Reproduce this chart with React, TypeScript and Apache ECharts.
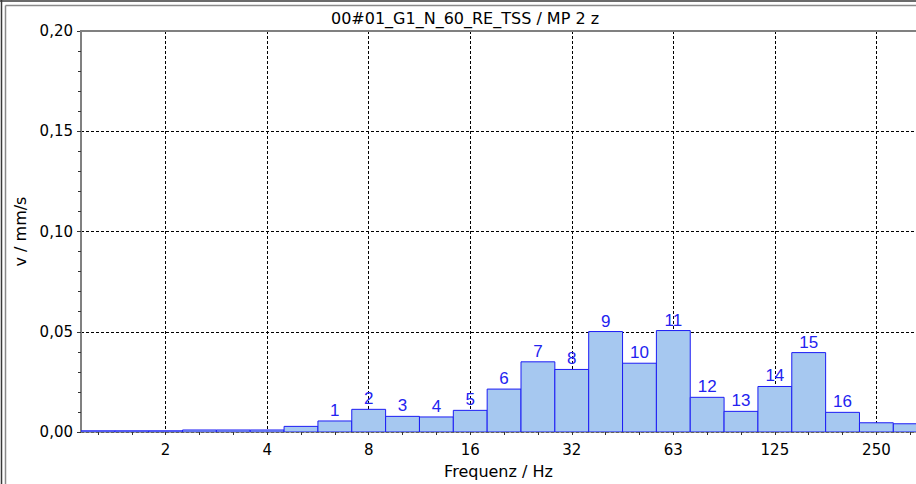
import React, { useEffect, useRef } from 'react';
import * as echarts from 'echarts';

// ---- data ----
const chartTitle = '00#01_G1_N_60_RE_TSS / MP 2 z';
const yAxisName = 'v / mm/s';
const xAxisName = 'Frequenz / Hz';

// third-octave band index (band centre = 2^(n/3) Hz)
const bandIndex = [1, 2, 3, 4, 5, 6, 7, 8, 9, 10, 11, 12, 13, 14, 15, 16, 17, 18, 19, 20, 21, 22, 23, 24, 25];
const bandValues = [
  0.0006, 0.0006, 0.0006, 0.001, 0.001, 0.001, 0.0028, 0.0055, 0.0113, 0.0078,
  0.0075, 0.0108, 0.0214, 0.035, 0.0312, 0.0501, 0.0343, 0.0506, 0.0173, 0.0103,
  0.0227, 0.0396, 0.0098, 0.0046, 0.0041,
];
const bandLabels = [
  '', '', '', '', '', '', '', '1', '2', '3', '4', '5', '6', '7', '8', '9', '10',
  '11', '12', '13', '14', '15', '16', '', '',
];
const xTickBands = [3, 6, 9, 12, 15, 18, 21, 24];
const xTickLabels = ['2', '4', '8', '16', '32', '63', '125', '250'];
const yMin = 0;
const yMax = 0.2;
const yStep = 0.05;

const AXIS_FONT = 'DejaVu Sans';
const BAR_FONT = 'Liberation Sans';

export default function App() {
  const ref = useRef<HTMLDivElement>(null);

  useEffect(() => {
    if (!ref.current) return;
    const chart = echarts.init(ref.current, null, { renderer: 'svg' });

    const dashed = { color: '#000', width: 1, type: [3, 2] as number[] };

    const option: any = {
      animation: false,
      backgroundColor: '#ffffff',
      grid: { left: 81, top: 31, right: 0, bottom: 51, containLabel: false },
      xAxis: [
        {
          type: 'value',
          min: 0.5,
          max: 25.17,
          position: 'bottom',
          axisLine: { show: true, onZero: false, lineStyle: { color: '#808080', width: 1.5 } },
          axisTick: { show: true, customValues: bandIndex, length: 3, lineStyle: { color: '#333' } },
          axisLabel: {
            customValues: xTickBands,
            formatter: (v: number) => {
              const i = xTickBands.indexOf(Math.round(v));
              return i >= 0 ? xTickLabels[i] : '';
            },
            margin: 10,
            color: '#000',
            fontFamily: AXIS_FONT,
            fontSize: 15,
          },
          splitLine: { show: false },
          name: xAxisName,
          nameLocation: 'middle',
          nameGap: 31,
          nameTextStyle: { color: '#000', fontFamily: AXIS_FONT, fontSize: 16 },
        },
        {
          type: 'value',
          min: 0.5,
          max: 25.17,
          position: 'top',
          axisLine: { show: false },
          axisTick: { show: false, customValues: xTickBands },
          axisLabel: { show: false, customValues: xTickBands },
          splitLine: { show: true, lineStyle: dashed },
        },
      ],
      yAxis: {
        type: 'value',
        min: yMin,
        max: yMax,
        interval: yStep,
        axisLine: { show: true, lineStyle: { color: '#808080', width: 2 } },
        axisTick: { show: true, length: 4, lineStyle: { color: '#333' } },
        minorTick: { show: true, splitNumber: 5, length: 3, lineStyle: { color: '#333' } },
        axisLabel: {
          formatter: (v: number) => v.toFixed(2).replace('.', ','),
          margin: 8,
          color: '#000',
          fontFamily: AXIS_FONT,
          fontSize: 15,
        },
        splitLine: { show: true, lineStyle: dashed },
        minorSplitLine: { show: false },
        name: yAxisName,
        nameLocation: 'middle',
        nameGap: 49,
        nameRotate: 90,
        nameTextStyle: { color: '#000', fontFamily: AXIS_FONT, fontSize: 16 },
      },
      series: [
        {
          type: 'custom',
          xAxisIndex: 0,
          yAxisIndex: 0,
          clip: true,
          z: 3,
          data: bandIndex.map((n, i) => [n, bandValues[i]]),
          renderItem: (params: any, api: any) => {
            const n = api.value(0);
            const v = api.value(1);
            const p0 = api.coord([n - 0.5, v]);
            const p1 = api.coord([n + 0.5, 0]);
            const children: any[] = [
              {
                type: 'rect',
                shape: { x: p0[0], y: p0[1], width: p1[0] - p0[0], height: p1[1] - p0[1] },
                style: { fill: '#a6c8f0', stroke: '#1c1cf5', lineWidth: 1 },
              },
            ];
            const lbl = bandLabels[params.dataIndex];
            if (lbl) {
              children.push({
                type: 'text',
                x: (p0[0] + p1[0]) / 2,
                y: p0[1] - 2,
                style: {
                  text: lbl,
                  align: 'center',
                  verticalAlign: 'bottom',
                  textAlign: 'center',
                  textVerticalAlign: 'bottom',
                  fill: '#2323f0',
                  fontSize: 17,
                  fontFamily: BAR_FONT,
                },
              });
            }
            return { type: 'group', children };
          },
        },
      ],
      graphic: [
        { type: 'line', z: 100, shape: { x1: 0, y1: 1, x2: 916, y2: 1 }, style: { stroke: '#3a3a3a', lineWidth: 1.5 } },
        { type: 'line', z: 100, shape: { x1: 1.5, y1: 0, x2: 1.5, y2: 484 }, style: { stroke: '#3a3a3a', lineWidth: 1.5 } },
        { type: 'line', z: 100, shape: { x1: 5.5, y1: 5.5, x2: 916, y2: 5.5 }, style: { stroke: '#8a8a8a', lineWidth: 1.5 } },
        { type: 'line', z: 100, shape: { x1: 5.5, y1: 5.5, x2: 5.5, y2: 484 }, style: { stroke: '#8a8a8a', lineWidth: 1.5 } },
        { type: 'line', z: 100, shape: { x1: 80, y1: 31, x2: 916, y2: 31 }, style: { stroke: '#808080', lineWidth: 2 } },
        {
          type: 'text',
          z: 100,
          x: 465,
          y: 18,
          style: {
            text: chartTitle,
            fill: '#000',
            fontSize: 16,
            fontFamily: AXIS_FONT,
            align: 'center',
            verticalAlign: 'middle',
            textAlign: 'center',
            textVerticalAlign: 'middle',
          },
        },
      ],
    };

    chart.setOption(option);
    return () => chart.dispose();
  }, []);

  return (
    <div
      ref={ref}
      style={{ position: 'fixed', left: 0, top: 0, width: 916, height: 484, background: '#fff' }}
    />
  );
}
